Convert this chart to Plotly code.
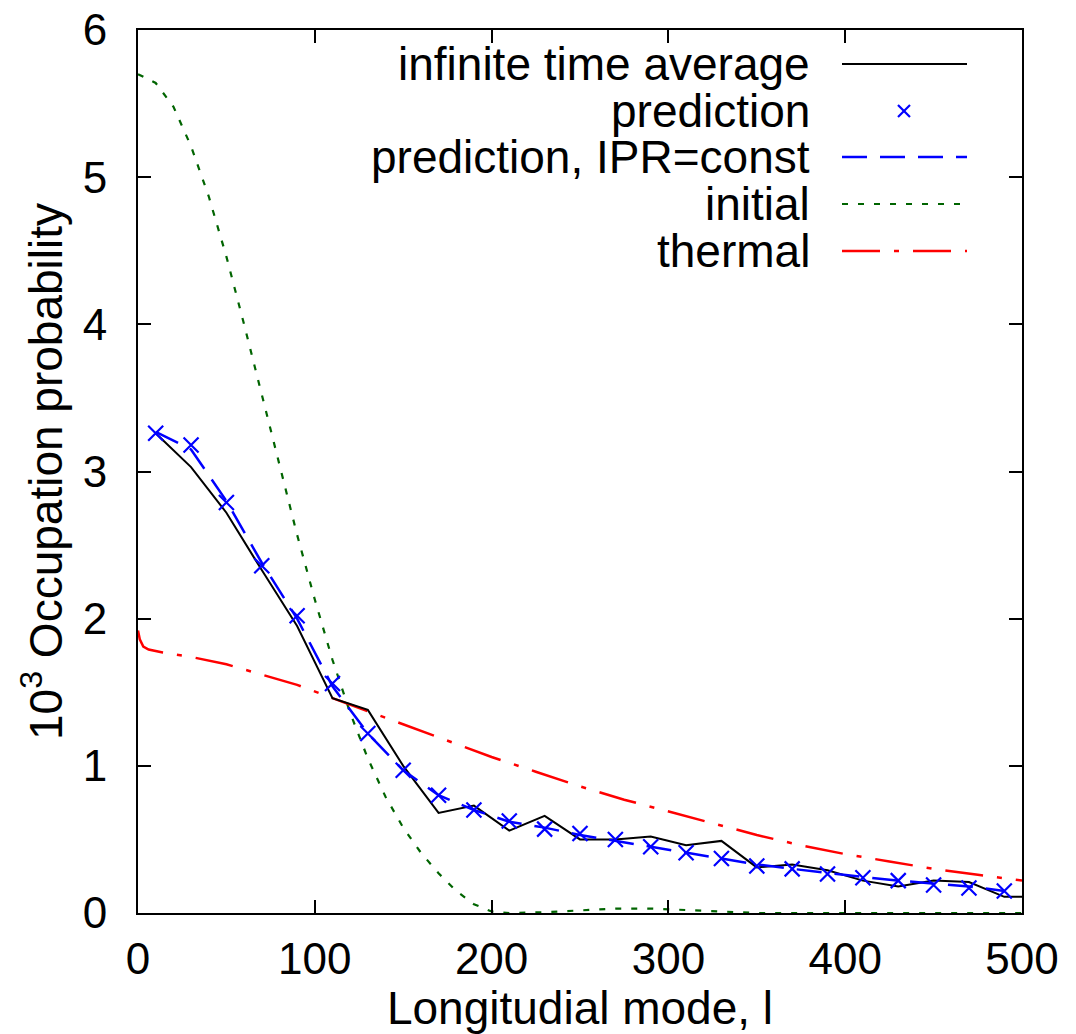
import plotly.graph_objects as go

# ---------------- data ----------------
avg_x = [10, 30, 50, 70, 90, 110, 130, 150, 170, 190, 210, 230, 250, 270, 290,
         310, 330, 350, 370, 390, 410, 430, 450, 470, 490, 500]
avg_y = [3.26, 3.03, 2.72, 2.33, 1.95, 1.46, 1.38, 1.00, 0.68, 0.73, 0.56, 0.66, 0.50,
         0.50, 0.52, 0.46, 0.49, 0.31, 0.33, 0.29, 0.22, 0.18, 0.22, 0.21, 0.11, 0.11]

pred_x = [10, 30, 50, 70, 90, 110, 130, 150, 170, 190, 210, 230, 250, 270, 290,
          310, 330, 350, 370, 390, 410, 430, 450, 470, 490]
pred_y = [3.26, 3.18, 2.79, 2.36, 2.02, 1.56, 1.22, 0.97, 0.80, 0.70, 0.625, 0.57, 0.54,
          0.50, 0.45, 0.41, 0.37, 0.32, 0.30, 0.265, 0.24, 0.22, 0.19, 0.17, 0.15]

ipr_x = pred_x
ipr_y = [3.27, 3.15, 2.80, 2.38, 2.00, 1.54, 1.22, 0.97, 0.80, 0.70, 0.62, 0.58, 0.53,
         0.49, 0.45, 0.41, 0.37, 0.33, 0.30, 0.27, 0.245, 0.22, 0.20, 0.18, 0.15]

init_x = [0, 10, 20, 30, 40, 50, 60, 70, 80, 90, 100, 110, 120, 130, 140, 150, 160,
          170, 180, 190, 200, 210, 230, 250, 270, 290, 310, 330, 350, 400, 450, 500]
init_y = [5.70, 5.64, 5.48, 5.21, 4.87, 4.46, 4.00, 3.52, 3.04, 2.57, 2.13, 1.72, 1.36,
          1.05, 0.79, 0.58, 0.41, 0.27, 0.15, 0.06, 0.01, 0.0, 0.005, 0.02, 0.03, 0.03,
          0.02, 0.005, 0.0, 0.0, 0.0, 0.0]

therm_x = [0, 1, 3, 6, 14, 30, 50, 70, 90, 110, 130, 150, 175, 200, 225, 250, 275, 300,
           325, 350, 375, 400, 425, 450, 475, 500]
therm_y = [1.92, 1.86, 1.81, 1.79, 1.77, 1.74, 1.69, 1.62, 1.55, 1.46, 1.37, 1.28, 1.17,
           1.06, 0.96, 0.86, 0.77, 0.69, 0.61, 0.53, 0.46, 0.40, 0.35, 0.30, 0.26, 0.22]

legend_labels = ["infinite time average", "prediction", "prediction, IPR=const",
                 "initial", "thermal"]

x_ticks = [0, 100, 200, 300, 400, 500]
y_ticks = [0, 1, 2, 3, 4, 5, 6]

# ---------------- styles ----------------
FONT = "Liberation Sans, Arial, sans-serif"
FS = 44
FS_T = 46
W, H = 1076, 1034
L, R, T, B = 138, 54, 30, 121
PW, PH = W - L - R, H - T - B

BLACK = "#000000"
BLUE = "#0000ff"
GREEN = "#006400"
RED = "#ff0000"
DASH_IPR = "25px,13px"
DASH_INIT = "6px,10px"
DASH_THERM = "38px,14px,5px,14px"

fig = go.Figure()
fig.add_trace(go.Scatter(x=init_x, y=init_y, mode="lines",
                         line=dict(color=GREEN, width=2.2, dash=DASH_INIT)))
fig.add_trace(go.Scatter(x=therm_x, y=therm_y, mode="lines",
                         line=dict(color=RED, width=2.5, dash=DASH_THERM)))
fig.add_trace(go.Scatter(x=avg_x, y=avg_y, mode="lines",
                         line=dict(color=BLACK, width=2)))
fig.add_trace(go.Scatter(x=ipr_x, y=ipr_y, mode="lines",
                         line=dict(color=BLUE, width=2.5, dash=DASH_IPR)))
fig.add_trace(go.Scatter(x=pred_x, y=pred_y, mode="markers",
                         marker=dict(symbol="x-thin", size=15,
                                     line=dict(color=BLUE, width=2.2))))

# ---------------- custom gnuplot-style legend ----------------
def px_x(p):
    return (p - L) / PW

def px_y(p):
    return (H - B - p) / PH

rows = [64, 111, 157, 204, 251]
text_right = 812
s0, s1 = 842, 967
styles = [
    dict(color=BLACK, width=2, dash="solid"),
    None,
    dict(color=BLUE, width=2.5, dash=DASH_IPR),
    dict(color=GREEN, width=2.2, dash=DASH_INIT),
    dict(color=RED, width=2.5, dash=DASH_THERM),
]
for lab, ry, st in zip(legend_labels, rows, styles):
    fig.add_annotation(x=px_x(text_right), y=px_y(ry), xref="paper", yref="paper",
                       text=lab, showarrow=False, xanchor="right", yanchor="middle",
                       font=dict(family=FONT, size=FS_T, color="black"))
    if st is not None:
        fig.add_shape(type="line", xref="paper", yref="paper",
                      x0=px_x(s0), x1=px_x(s1), y0=px_y(ry), y1=px_y(ry),
                      line=st)
    else:
        cx, cy, d = 904, ry, 6
        for (a, b_, c, e) in [(cx - d, cy - d, cx + d, cy + d), (cx - d, cy + d, cx + d, cy - d)]:
            fig.add_shape(type="line", xref="paper", yref="paper",
                          x0=px_x(a), y0=px_y(b_), x1=px_x(c), y1=px_y(e),
                          line=dict(color=BLUE, width=2.2))

axis_common = dict(showgrid=False, zeroline=False, showline=True, linecolor="black",
                   linewidth=2, mirror="allticks", ticks="inside", ticklen=13,
                   tickwidth=1.5, tickcolor="black",
                   tickfont=dict(family=FONT, size=FS, color="black"))

fig.update_xaxes(range=[0, 500], tickvals=x_ticks, ticklabelstandoff=6,
                 title=dict(text="Longitudial mode, l", standoff=2,
                            font=dict(family=FONT, size=FS_T, color="black")),
                 **axis_common)
fig.update_yaxes(range=[0, 6], tickvals=y_ticks, ticklabelstandoff=20,
                 title=dict(text="10<sup>3</sup> Occupation probability", standoff=6,
                            font=dict(family=FONT, size=FS_T, color="black")),
                 **axis_common)

fig.update_layout(width=W, height=H, showlegend=False,
                  margin=dict(l=L, r=R, t=T, b=B, autoexpand=False),
                  paper_bgcolor="white", plot_bgcolor="white",
                  font=dict(family=FONT, size=FS, color="black"))

fig.write_html("out.html")
